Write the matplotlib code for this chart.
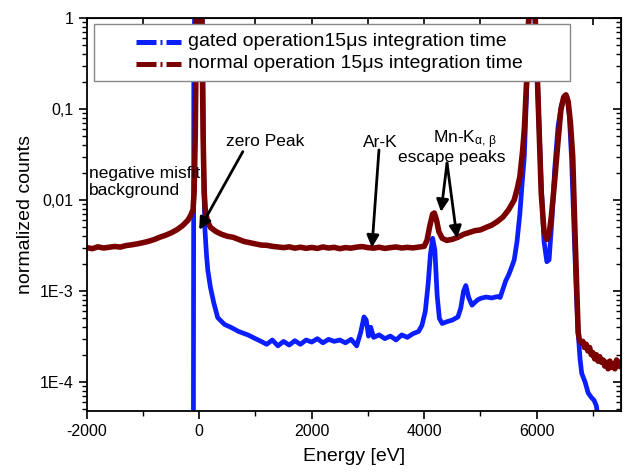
import numpy as np
import matplotlib.pyplot as plt
from matplotlib.ticker import FixedLocator, FixedFormatter, MultipleLocator, LogLocator, NullFormatter
from matplotlib.patches import Rectangle
from matplotlib.lines import Line2D

plt.rcParams['font.family'] = ['Liberation Sans', 'DejaVu Sans']
plt.rcParams['mathtext.fontset'] = 'custom'
plt.rcParams['mathtext.rm'] = 'Liberation Sans'
plt.rcParams['mathtext.it'] = 'Liberation Sans'
plt.rcParams['axes.unicode_minus'] = False

# ************ normal operation (red) ************
energy_normal = [-2000, -1900, -1800, -1700, -1600, -1500, -1400, -1300, -1200, -1100,
                 -1000, -900, -800, -700, -600, -500, -400, -300, -200, -150,
                 -110, -90, -70, -55, -40, 0, 40, 55, 70, 90,
                 110, 150, 200, 300, 400, 500, 600, 700, 800, 900,
                 1000, 1100, 1200, 1300, 1400, 1500, 1600, 1700, 1800, 1900,
                 2000, 2100, 2200, 2300, 2400, 2500, 2600, 2700, 2800, 2900,
                 3000, 3100, 3200, 3300, 3400, 3500, 3600, 3700, 3800, 3900,
                 4000, 4050, 4100, 4150, 4180, 4220, 4260, 4320, 4400, 4500,
                 4600, 4700, 4800, 4900, 5000, 5100, 5200, 5300, 5400, 5500,
                 5600, 5650, 5700, 5750, 5780, 5820, 5850, 5900, 5950, 5990,
                 6025, 6080, 6130, 6180, 6220, 6260, 6310, 6380, 6430, 6480,
                 6520, 6560, 6600, 6640, 6680, 6710, 6737, 6760, 6790, 6820,
                 6850, 6880, 6910, 6940, 6970, 7000, 7030, 7060, 7090, 7120,
                 7150, 7180, 7210, 7240, 7270, 7300, 7330, 7360, 7390, 7420,
                 7450, 7480, 7500]
counts_normal = [0.00300, 0.00292, 0.00306, 0.00297, 0.00303, 0.00309, 0.00304, 0.00316, 0.00322, 0.00330,
                 0.00340, 0.00352, 0.00368, 0.00390, 0.00410, 0.00435, 0.00470, 0.00520, 0.00600, 0.0068,
                 0.0078, 0.012, 0.05, 0.4, 3, 10, 3, 0.4, 0.05, 0.012,
                 0.0075, 0.0058, 0.0050, 0.0045, 0.0042, 0.0040, 0.0039, 0.0037, 0.0035, 0.0034,
                 0.0033, 0.0032, 0.00318, 0.00310, 0.00305, 0.00300, 0.00306, 0.00296, 0.00303, 0.00295,
                 0.00301, 0.00294, 0.00305, 0.00297, 0.00302, 0.00292, 0.00300, 0.00296, 0.00304, 0.00308,
                 0.00300, 0.00296, 0.00303, 0.00294, 0.00300, 0.00305, 0.00297, 0.00302, 0.00298, 0.00304,
                 0.00310, 0.0036, 0.0052, 0.0070, 0.0072, 0.0060, 0.0045, 0.0038, 0.0036, 0.0037,
                 0.0039, 0.0042, 0.0044, 0.0046, 0.0047, 0.0050, 0.0053, 0.0058, 0.0065, 0.0078,
                 0.0100, 0.013, 0.018, 0.035, 0.06, 0.2, 0.8, 3, 2, 0.6,
                 0.126, 0.012, 0.0045, 0.0037, 0.0042, 0.0066, 0.014, 0.045, 0.098, 0.135,
                 0.143, 0.12, 0.07, 0.03, 0.0045, 0.0012, 0.00035, 0.00029, 0.00027, 0.00028,
                 0.00024, 0.00026, 0.00022, 0.00024, 0.00020, 0.00021, 0.00018, 0.00020, 0.00017, 0.00019,
                 0.000165, 0.000175, 0.00015, 0.000165, 0.00014, 0.000170, 0.000145, 0.000160, 0.00014, 0.000175,
                 0.00015, 0.000165, 0.00015]

# ************ gated operation (blue) ************
energy_gated = [-105, -95, -50, 0, 50, 80, 100, 130, 153, 200,
                260, 330, 450, 562, 700, 865, 1000, 1100, 1200, 1300,
                1400, 1500, 1600, 1700, 1800, 1900, 2000, 2100, 2200, 2300,
                2400, 2500, 2600, 2700, 2800, 2870, 2930, 2970, 3010, 3050,
                3100, 3200, 3300, 3400, 3500, 3600, 3700, 3800, 3900, 3960,
                4020, 4070, 4110, 4150, 4190, 4230, 4270, 4320, 4400, 4500,
                4600, 4650, 4700, 4740, 4790, 4850, 4900, 4950, 5000, 5100,
                5200, 5300, 5350, 5400, 5450, 5500, 5550, 5600, 5650, 5700,
                5740, 5780, 5820, 5860, 5900, 5950, 5990, 6030, 6080, 6130,
                6180, 6220, 6270, 6320, 6380, 6440, 6500, 6540, 6580, 6620,
                6660, 6700, 6737, 6770, 6800, 6860, 6915, 6970, 7020, 7060,
                7090, 7100]
counts_gated = [1e-6, 0.5, 5, 10, 3, 0.02, 0.005, 0.0025, 0.0017, 0.0011,
                7.4e-4, 5.1e-4, 4.3e-4, 4.0e-4, 3.6e-4, 3.3e-4, 3.0e-4, 2.8e-4, 2.6e-4, 2.9e-4,
                2.5e-4, 2.8e-4, 2.55e-4, 2.85e-4, 2.6e-4, 2.9e-4, 2.75e-4, 3.0e-4, 2.7e-4, 2.95e-4,
                2.8e-4, 2.9e-4, 2.7e-4, 2.95e-4, 2.5e-4, 3.5e-4, 5.2e-4, 4.8e-4, 3.2e-4, 4.0e-4,
                3.1e-4, 3.3e-4, 3.0e-4, 3.2e-4, 2.9e-4, 3.3e-4, 3.1e-4, 3.4e-4, 3.6e-4, 4.2e-4,
                6e-4, 1.2e-3, 2.5e-3, 3.8e-3, 2.8e-3, 9e-4, 5.0e-4, 4.4e-4, 4.6e-4, 4.8e-4,
                5.2e-4, 6.5e-4, 1.0e-3, 1.15e-3, 8.5e-4, 7.0e-4, 7.5e-4, 8.0e-4, 8.3e-4, 8.6e-4,
                8.4e-4, 8.7e-4, 8.5e-4, 1.05e-3, 1.3e-3, 1.5e-3, 1.8e-3, 2.2e-3, 3.5e-3, 7e-3,
                0.015, 0.03, 0.15, 0.8, 3, 2, 0.5, 0.1, 0.015, 0.0035,
                0.0021, 0.0022, 0.006, 0.022, 0.065, 0.11, 0.14, 0.135, 0.085, 0.028,
                0.0055, 0.0011, 3.5e-4, 1.8e-4, 1.25e-4, 1.0e-4, 7.6e-5, 6.8e-5, 6.3e-5, 5.5e-5,
                4e-5, 2e-5]

y_ticks = [1e-4, 1e-3, 1e-2, 1e-1, 1]
y_tick_labels = ['1E-4', '1E-3', '0,01', '0,1', '1']

label_gated = 'gated operation15\u03bcs integration time'
label_normal = 'normal operation 15\u03bcs integration time'

blue = '#0a1eff'
red = '#7a0000'

fig = plt.figure(figsize=(6.28, 4.72), dpi=100)
ax = fig.add_axes([0.138, 0.129, 0.851, 0.833])

ax.plot(energy_gated, counts_gated, color=blue, lw=3.4, solid_joinstyle='round')
ax.plot(energy_normal, counts_normal, color=red, lw=4.0, solid_joinstyle='round')

ax.set_yscale('log')
ax.set_xlim(-2000, 7500)
ax.set_ylim(4.8e-5, 1)

ax.yaxis.set_major_locator(FixedLocator(y_ticks))
ax.yaxis.set_major_formatter(FixedFormatter(y_tick_labels))
ax.yaxis.set_minor_locator(LogLocator(base=10, subs=np.arange(2, 10)))
ax.yaxis.set_minor_formatter(NullFormatter())
ax.xaxis.set_major_locator(MultipleLocator(2000))
ax.xaxis.set_minor_locator(MultipleLocator(1000))

ax.tick_params(axis='both', which='major', direction='out', length=6, width=1.2, labelsize=11.5)
ax.tick_params(axis='both', which='minor', direction='out', length=3.5, width=1.0)
for s in ax.spines.values():
    s.set_linewidth(1.3)

# top / right axes: ticks inward, no labels
axr = ax.secondary_yaxis('right')
axr.yaxis.set_major_locator(FixedLocator(y_ticks))
axr.yaxis.set_minor_locator(LogLocator(base=10, subs=np.arange(2, 10)))
axr.yaxis.set_major_formatter(NullFormatter())
axr.yaxis.set_minor_formatter(NullFormatter())
axr.tick_params(which='major', direction='in', length=6, width=1.2)
axr.tick_params(which='minor', direction='in', length=3.5, width=1.0)
axt = ax.secondary_xaxis('top')
axt.xaxis.set_major_locator(MultipleLocator(1000))
axt.xaxis.set_major_formatter(NullFormatter())
axt.tick_params(which='major', direction='in', length=5, width=1.2)
axt.tick_params(which='minor', length=0)

ax.set_xlabel('Energy [eV]', fontsize=14, labelpad=6)
ax.set_ylabel('normalized counts', fontsize=14, labelpad=4)

# ************ legend drawn by hand ************
ax.add_patch(Rectangle((0.013, 0.839), 0.892, 0.146, transform=ax.transAxes,
                       facecolor='white', edgecolor='#888888', lw=1.0, zorder=5))
dash = (0, (4, 0.8, 0.4, 0.8))
ax.add_line(Line2D([0.092, 0.176], [0.939, 0.939], transform=ax.transAxes,
                   color=blue, lw=3.6, linestyle=dash, zorder=6))
ax.add_line(Line2D([0.092, 0.176], [0.883, 0.883], transform=ax.transAxes,
                   color=red, lw=3.6, linestyle=dash, zorder=6))
ax.text(0.189, 0.939, label_gated, transform=ax.transAxes, fontsize=14,
        va='center', ha='left', zorder=6)
ax.text(0.189, 0.883, label_normal, transform=ax.transAxes, fontsize=14,
        va='center', ha='left', zorder=6)

# ************ annotations ************
arrow = dict(arrowstyle='-|>', color='black', lw=2, mutation_scale=18, shrinkA=0, shrinkB=0)
ax.text(-1964, 0.0158, 'negative misfit\nbackground', fontsize=12.5, va='center', ha='left',
        linespacing=1.1)
ax.text(473, 0.0434, 'zero Peak', fontsize=12.5, va='center', ha='left')
ax.annotate('', xy=(0, 0.0047), xytext=(776, 0.034), arrowprops=arrow)
ax.text(2911, 0.0423, 'Ar-K', fontsize=12.5, va='center', ha='left')
ax.annotate('', xy=(3071, 0.0030), xytext=(3196, 0.0355), arrowprops=arrow)
ax.text(4157, 0.0457, r'Mn-K$_{\alpha,\,\beta}$', fontsize=12.5, va='center', ha='left')
ax.text(3534, 0.029, 'escape peaks', fontsize=12.5, va='center', ha='left')
ax.annotate('', xy=(4299, 0.0074), xytext=(4406, 0.0255), arrowprops=arrow)
ax.annotate('', xy=(4584, 0.0038), xytext=(4406, 0.0255), arrowprops=arrow)

fig.savefig('out.png', dpi=100)
